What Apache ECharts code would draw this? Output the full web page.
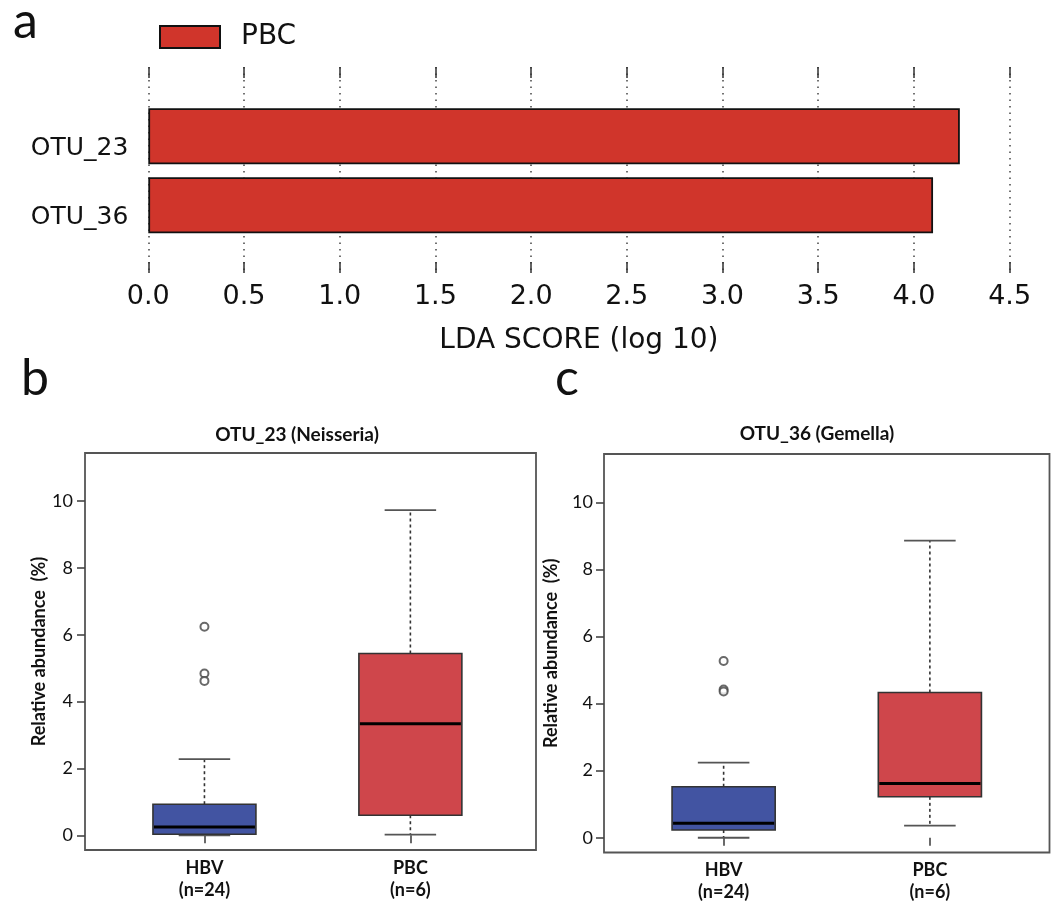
<!DOCTYPE html>
<html>
<head>
<meta charset="utf-8">
<script src="https://cdn.jsdelivr.net/npm/echarts@6/dist/echarts.min.js"></script>
<style>
  html, body { margin: 0; padding: 0; background: #fff; }
  #main { width: 1062px; height: 909px; }
</style>
</head>
<body>
<div id="main"></div>
<script>
// ---------- Data ----------
// Panel a: LDA scores
const ldaCategories = ['OTU_23', 'OTU_36'];
const ldaScores = [4.24, 4.10];
const ldaTicks = [0, 0.5, 1, 1.5, 2, 2.5, 3, 3.5, 4, 4.5];

// Box plots: [min, q1, median, q3, max] per group
const groups = ['HBV\n(n=24)', 'PBC\n(n=6)'];
const otu23Boxes = [
  [0.00, 0.03, 0.25, 0.93, 2.28],
  [0.02, 0.60, 3.34, 5.44, 9.73]
];
const otu23Outliers = [[1, 6.24], [1, 4.84], [1, 4.62]];
const otu36Boxes = [
  [0.00, 0.23, 0.43, 1.52, 2.24],
  [0.36, 1.22, 1.62, 4.33, 8.86]
];
const otu36Outliers = [[1, 5.27], [1, 4.42], [1, 4.36]];
const yTicks = [0, 2, 4, 6, 8, 10];

// ---------- Styles ----------
const barRed = '#D0352B';
const boxColors = ['#4254A2', '#CF464B'];
const BOX_HALF = 0.25;
const CAP_HALF = 0.125;
const sansA = 'DejaVu Sans';
const sansB = 'Lato';

function boxData(boxes) {
  return boxes.map((b, i) => [i + 1].concat(b));
}

function renderBox(params, api) {
  const x = api.value(0);
  const lo = api.coord([x, api.value(1)]);
  const q1 = api.coord([x, api.value(2)]);
  const md = api.coord([x, api.value(3)]);
  const q3 = api.coord([x, api.value(4)]);
  const hi = api.coord([x, api.value(5)]);
  const hw = api.size([BOX_HALF, 0])[0];
  const cw = api.size([CAP_HALF, 0])[0];
  const cx = lo[0];
  const dashStyle = { stroke: '#333', lineWidth: 1.6, lineDash: [3, 3] };
  const solid = { stroke: '#555', lineWidth: 1.8 };
  return {
    type: 'group',
    children: [
      { type: 'line', shape: { x1: cx, y1: q3[1], x2: cx, y2: hi[1] }, style: dashStyle },
      { type: 'line', shape: { x1: cx, y1: q1[1], x2: cx, y2: lo[1] }, style: dashStyle },
      { type: 'line', shape: { x1: cx - cw, y1: hi[1], x2: cx + cw, y2: hi[1] }, style: solid },
      { type: 'line', shape: { x1: cx - cw, y1: lo[1], x2: cx + cw, y2: lo[1] }, style: solid },
      { type: 'rect', shape: { x: cx - hw, y: q3[1], width: 2 * hw, height: q1[1] - q3[1] },
        style: { fill: boxColors[params.dataIndex], stroke: '#333', lineWidth: 1.6 } },
      { type: 'line', shape: { x1: cx - hw + 1, y1: md[1], x2: cx + hw - 1, y2: md[1] },
        style: { stroke: '#000', lineWidth: 3 } }
    ]
  };
}

function boxXAxis(gridIndex, min, max) {
  return {
    type: 'value', gridIndex, min, max,
    axisLine: { show: false },
    splitLine: { show: false },
    axisTick: { show: true, customValues: [1, 2], length: 8, lineStyle: { color: '#444', width: 1.6 } },
    axisLabel: {
      customValues: [1, 2],
      formatter: v => groups[Math.round(v) - 1] || '',
      fontFamily: sansB, fontWeight: 'bold', fontSize: 18, color: '#111', lineHeight: 22, margin: 7
    }
  };
}

function boxYAxis(gridIndex, nameGap, labelMargin) {
  return {
    type: 'value', gridIndex, min: -0.44, max: 11.44,
    name: 'Relative abundance  (%)', nameLocation: 'middle', nameRotate: 90, nameGap,
    nameTextStyle: { fontFamily: sansB, fontWeight: 'bold', fontSize: 18, color: '#111' },
    axisLine: { show: false },
    splitLine: { show: false },
    axisTick: { show: true, customValues: yTicks, length: 8, lineStyle: { color: '#444', width: 1.6 } },
    axisLabel: { customValues: yTicks, fontFamily: sansB, fontSize: 18, color: '#111', margin: labelMargin }
  };
}

const chart = echarts.init(document.getElementById('main'), null, { renderer: 'canvas' });

const option = {
  backgroundColor: '#fff',
  animation: false,
  title: [
    { text: 'a', left: 8, top: -8, textStyle: { fontFamily: sansB, fontWeight: 'normal', fontSize: 50, color: '#111' } },
    { text: 'b', left: 16, top: 349, textStyle: { fontFamily: sansB, fontWeight: 'normal', fontSize: 50, color: '#111' } },
    { text: 'c', left: 550, top: 349, textStyle: { fontFamily: sansB, fontWeight: 'normal', fontSize: 50, color: '#111' } },
    { text: 'OTU_23 (Neisseria)', left: 292, top: 420, textAlign: 'center',
      textStyle: { fontFamily: sansB, fontWeight: 'bold', fontSize: 19, color: '#111' } },
    { text: 'OTU_36 (Gemella)', left: 812, top: 419, textAlign: 'center',
      textStyle: { fontFamily: sansB, fontWeight: 'bold', fontSize: 19, color: '#111' } }
  ],
  legend: {
    data: ['PBC'], left: 159, top: 23, padding: 0,
    icon: 'rect', itemWidth: 60, itemHeight: 22,
    textStyle: { fontFamily: sansA, fontSize: 28, color: '#111', padding: [0, 0, 0, 16] }
  },
  grid: [
    { left: 148.3, width: 861.3, top: 67, height: 206 },
    { left: 148.3, width: 861.3, top: 101.8, height: 138 },
    { left: 85, width: 451, top: 453, height: 397, show: true, borderColor: '#555', borderWidth: 1.8, backgroundColor: 'transparent' },
    { left: 604, width: 445.5, top: 454, height: 398.5, show: true, borderColor: '#555', borderWidth: 1.8, backgroundColor: 'transparent' }
  ],
  xAxis: [
    { type: 'value', gridIndex: 0, min: 0, max: 4.5, interval: 0.5, position: 'bottom',
      name: 'LDA SCORE (log 10)', nameLocation: 'middle', nameGap: 54,
      nameTextStyle: { fontFamily: sansA, fontSize: 28, color: '#111' },
      axisLine: { show: false },
      axisTick: { show: true, inside: true, length: 11, lineStyle: { color: '#333', width: 1.5 } },
      axisLabel: { fontFamily: sansA, fontSize: 27, color: '#111', margin: 10, formatter: v => v.toFixed(1) },
      splitLine: { show: true, lineStyle: { color: '#444', width: 1.5, type: [1.5, 5] } }
    },
    { type: 'value', gridIndex: 0, min: 0, max: 4.5, interval: 0.5, position: 'top',
      axisLine: { show: false },
      axisTick: { show: true, inside: true, length: 11, lineStyle: { color: '#333', width: 1.5 } },
      axisLabel: { show: false }, splitLine: { show: false }
    },
    { type: 'value', gridIndex: 1, min: 0, max: 4.5, show: false },
    boxXAxis(2, 0.42, 2.61),
    boxXAxis(3, 0.42, 2.58)
  ],
  yAxis: [
    { type: 'value', gridIndex: 0, min: 0, max: 1, show: false },
    { type: 'category', gridIndex: 1, data: ldaCategories, inverse: true,
      axisLine: { show: false }, axisTick: { show: false },
      axisLabel: { fontFamily: sansA, fontSize: 25, color: '#111', margin: 20, lineHeight: 24,
        formatter: v => '\n' + v }
    },
    boxYAxis(2, 36, 12),
    boxYAxis(3, 44, 11)
  ],
  series: [
    { name: 'PBC', type: 'bar', xAxisIndex: 2, yAxisIndex: 1, data: ldaScores, barWidth: 56,
      itemStyle: { color: barRed, borderColor: '#111', borderWidth: 1.8 } },
    { type: 'custom', xAxisIndex: 3, yAxisIndex: 2, renderItem: renderBox, data: boxData(otu23Boxes), z: 3 },
    { type: 'scatter', xAxisIndex: 3, yAxisIndex: 2, data: otu23Outliers, symbol: 'emptyCircle', symbolSize: 8,
      itemStyle: { color: '#444', borderColor: '#444', borderWidth: 1.5 }, z: 4 },
    { type: 'custom', xAxisIndex: 4, yAxisIndex: 3, renderItem: renderBox, data: boxData(otu36Boxes), z: 3 },
    { type: 'scatter', xAxisIndex: 4, yAxisIndex: 3, data: otu36Outliers, symbol: 'emptyCircle', symbolSize: 8,
      itemStyle: { color: '#444', borderColor: '#444', borderWidth: 1.5 }, z: 4 }
  ]
};
chart.setOption(option);
</script>
</body>
</html>
